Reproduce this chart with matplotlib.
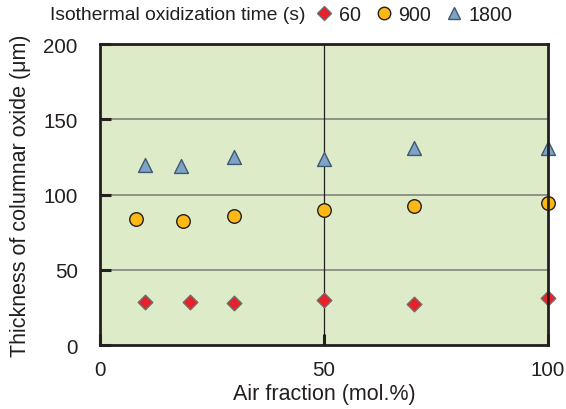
import matplotlib.pyplot as plt
from matplotlib.lines import Line2D

plt.rcParams['font.family'] = ['Liberation Sans', 'DejaVu Sans']

# Data
x_60 = [10, 20, 30, 50, 70, 100]
y_60 = [28.5, 28.5, 27.8, 30.0, 27.6, 31.1]

x_900 = [8, 18.5, 30, 50, 70, 100]
y_900 = [84, 82.4, 86, 90, 92.3, 94.2]

x_1800 = [10, 18, 30, 50, 70, 100]
y_1800 = [119.5, 119, 125.2, 123.8, 131.1, 131.1]

series_labels = ['60', '900', '1800']
ink = '#231f20'

fig = plt.figure(figsize=(5.66, 4.10), dpi=100)
ax = fig.add_axes([0.1767, 0.156, 0.7915, 0.734])
ax.set_facecolor('#deebc8')

ax.set_xlim(0, 100)
ax.set_ylim(0, 200)

# grid lines
for yv in [50, 100, 150]:
    ax.axhline(yv, color='#7a7a72', lw=1.1, zorder=1)
ax.axvline(50, color=ink, lw=0.9, zorder=1)

ax.scatter(x_60, y_60, marker='D', s=55, color='#e8202a', edgecolors='#6d6d6d',
           linewidths=1.0, zorder=3, clip_on=False)
ax.scatter(x_900, y_900, marker='o', s=95, color='#fdb813', edgecolors=ink,
           linewidths=1.0, zorder=3, clip_on=False)
ax.scatter(x_1800, y_1800, marker='^', s=100, color='#7fa3c4', edgecolors='#3f5873',
           linewidths=1.0, zorder=3, clip_on=False)

for sp in ax.spines.values():
    sp.set_linewidth(2.0)
    sp.set_color(ink)
    sp.set_zorder(4)

ax.set_xticks([0, 50, 100])
ax.set_yticks([0, 50, 100, 150, 200])
ax.tick_params(axis='both', direction='in', length=8, width=2.2, color=ink,
               labelsize=14.8, labelcolor=ink)
ax.tick_params(axis='x', pad=11)
ax.tick_params(axis='y', pad=16)

ax.set_xlabel('Air fraction (mol.%)', fontsize=15.5, color=ink, labelpad=3)
ax.set_ylabel('Thickness of columnar oxide (\u03bcm)', fontsize=15.5, color=ink, labelpad=9)

# legend across the top
fig.text(0.088, 0.962, 'Isothermal oxidization time (s)', fontsize=13.9,
         color=ink, va='center', ha='left')
handles = [
    Line2D([0], [0], marker='D', ls='none', markersize=7, markerfacecolor='#e8202a',
           markeredgecolor='#6d6d6d'),
    Line2D([0], [0], marker='o', ls='none', markersize=9, markerfacecolor='#fdb813',
           markeredgecolor=ink),
    Line2D([0], [0], marker='^', ls='none', markersize=9, markerfacecolor='#7fa3c4',
           markeredgecolor='#3f5873'),
]
fig.legend(handles, series_labels, loc='center right', bbox_to_anchor=(0.906, 0.962),
           ncol=3, frameon=False, fontsize=14.2, handlelength=0.7,
           handletextpad=0.4, columnspacing=0.8, borderpad=0, borderaxespad=0,
           labelcolor=ink)

fig.savefig('out.png', dpi=100)
